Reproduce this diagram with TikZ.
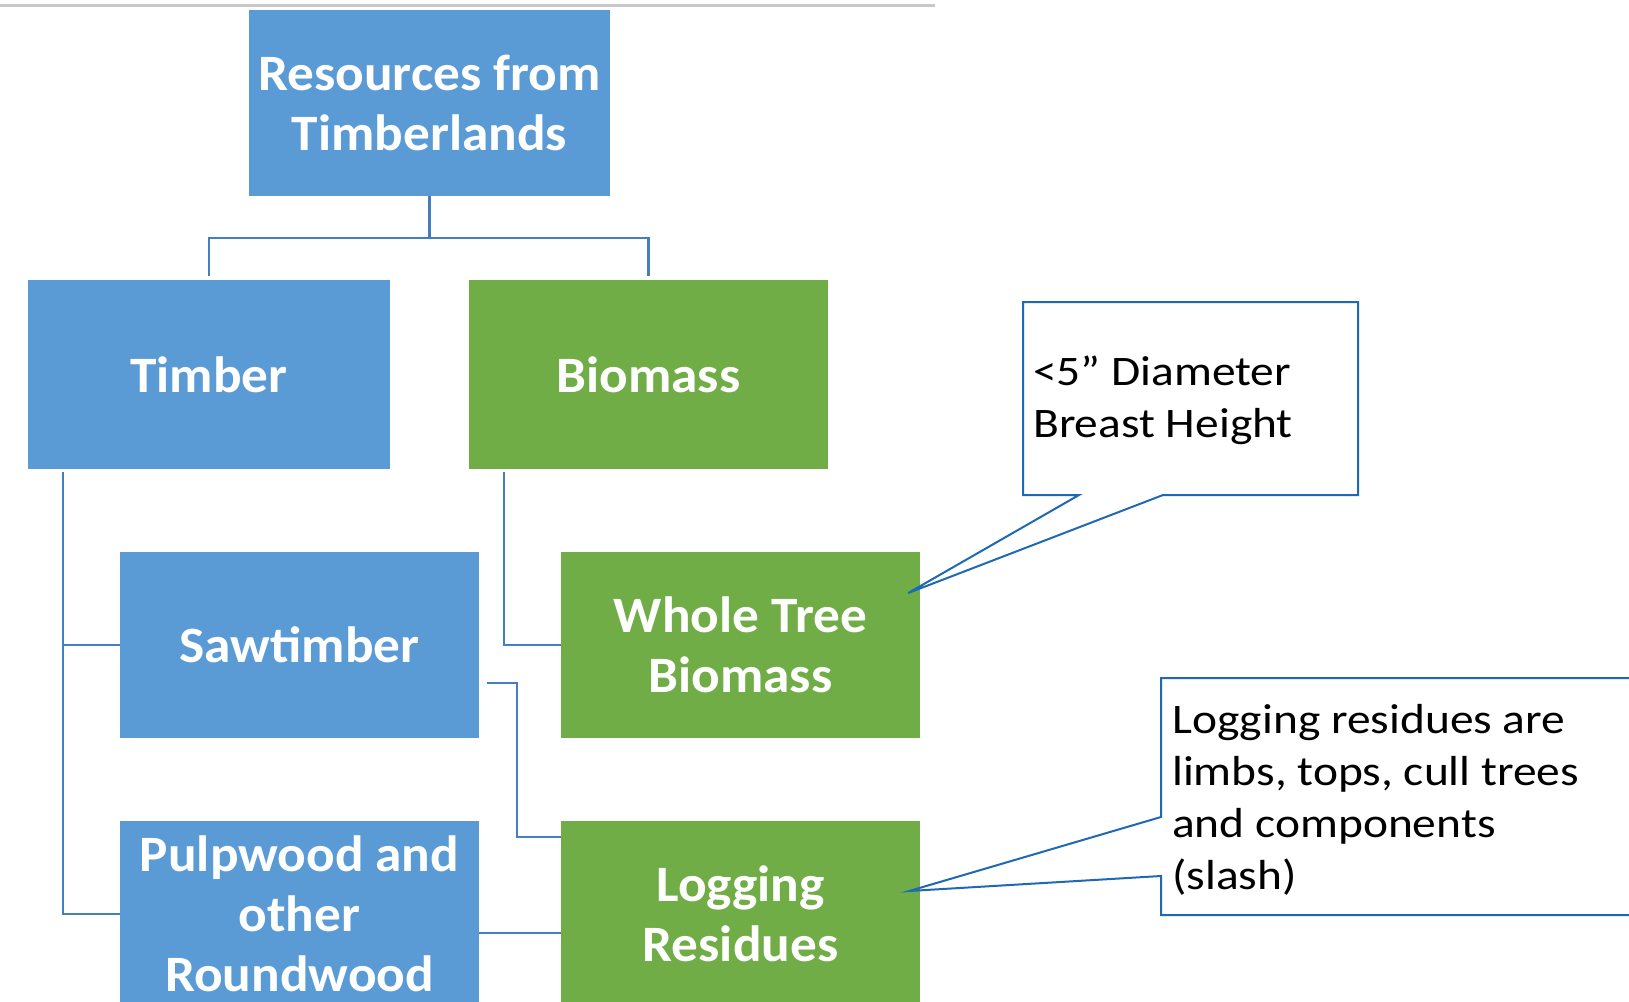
\documentclass[tikz,border=0pt]{standalone}
\usepackage{fontspec}
\setmainfont{Carlito}
\newfontfamily\boxfont[FakeStretch=1.045]{Carlito}
\newfontfamily\notefont[FakeStretch=1.13]{Carlito}
\usetikzlibrary{calc}

\definecolor{boxblue}{RGB}{91,155,213}
\definecolor{boxgreen}{RGB}{112,173,71}
\definecolor{linkblue}{RGB}{68,126,190}
\definecolor{noteblue}{RGB}{31,105,180}
\definecolor{rulegray}{RGB}{200,200,200}

\tikzset{
    blk/.style={text=white, align=center, inner sep=0pt,
        font=\boxfont\bfseries\fontsize{51}{60}\selectfont},
    timberbox/.style={blk, fill=boxblue},
    biobox/.style={blk, fill=boxgreen},
    link/.style={draw=linkblue, line width=2.5pt},
    note/.style={draw=noteblue, line width=2pt, line join=miter},
    notetext/.style={align=left, inner sep=0pt,
        font=\notefont\fontsize{42}{52}\selectfont},
    topline/.style={draw=rulegray, line width=3pt}
}

\begin{document}
\begin{tikzpicture}[x=1pt,y=-1pt]
    \useasboundingbox (0,0) rectangle (1629,1001);
    \clip (0,0) rectangle (1629,1001);
    \draw [topline] (0,5) -- (935,5);
    % boxes
    \node [timberbox, minimum width=361pt, minimum height=186pt] (root) at (429.5,103) {Resources from\\Timberlands};
    \node [timberbox, minimum width=362pt, minimum height=189pt] (timber) at (209,374.5) {Timber};
    \node [biobox, minimum width=359pt, minimum height=189pt] (biomass) at (648.5,374.5) {Biomass};
    \node [timberbox, minimum width=359pt, minimum height=186pt] (saw) at (299.5,645) {Sawtimber};
    \node [biobox, minimum width=359pt, minimum height=186pt] (whole) at (740.5,645) {Whole Tree\\Biomass};
    \node [timberbox, minimum width=359pt, minimum height=186pt] (pulp) at (299.5,914) {Pulpwood and\\other\\Roundwood};
    \node [biobox, minimum width=359pt, minimum height=186pt] (logging) at (740.5,914) {Logging\\Residues};
    % lines
    \draw [link] (root.south) -- ++(0,42) -| ([yshift=4pt]timber.north);
    \draw [link] (root.south) -- ++(0,42) -| ([yshift=4pt]biomass.north);
    \draw [link] ($(timber.south west)+(35,3)$) |- (saw.west);
    \draw [link] ($(timber.south west)+(35,3)$) |- (pulp.west);
    \draw [link] ($(biomass.south west)+(35,3)$) |- (whole.west);
    \draw [link] ($(saw.east)+(8,38)$) -- ++(30,0) |- ($(logging.north west)+(0,16)$);
    \draw [link] ($(pulp.east)+(0,19)$) coordinate (pr) -- (pr -| logging.west);
    % callouts
    \coordinate (dbh tip) at ($(whole.east)+(-12,-52)$);
    \draw [note] (dbh tip) -- (1079,495) -- (1023,495) -- (1023,302) -- (1358,302) -- (1358,495) -- (1163,495) -- cycle;
    \node [notetext, anchor=base west] (dbh) at (1033,437) {<5” Diameter\\Breast Height};
    \coordinate (slash tip) at ($(logging.east)+(-11,-23)$);
    \draw [note] (slash tip) -- (1161,817) -- (1161,678) -- (1640,678) -- (1640,915) -- (1161,915) -- (1161,876) -- cycle;
    \node [notetext, anchor=base west] (slash) at (1172,889) {Logging residues are\\limbs, tops, cull trees\\and components\\(slash)};
\end{tikzpicture}
\end{document}
